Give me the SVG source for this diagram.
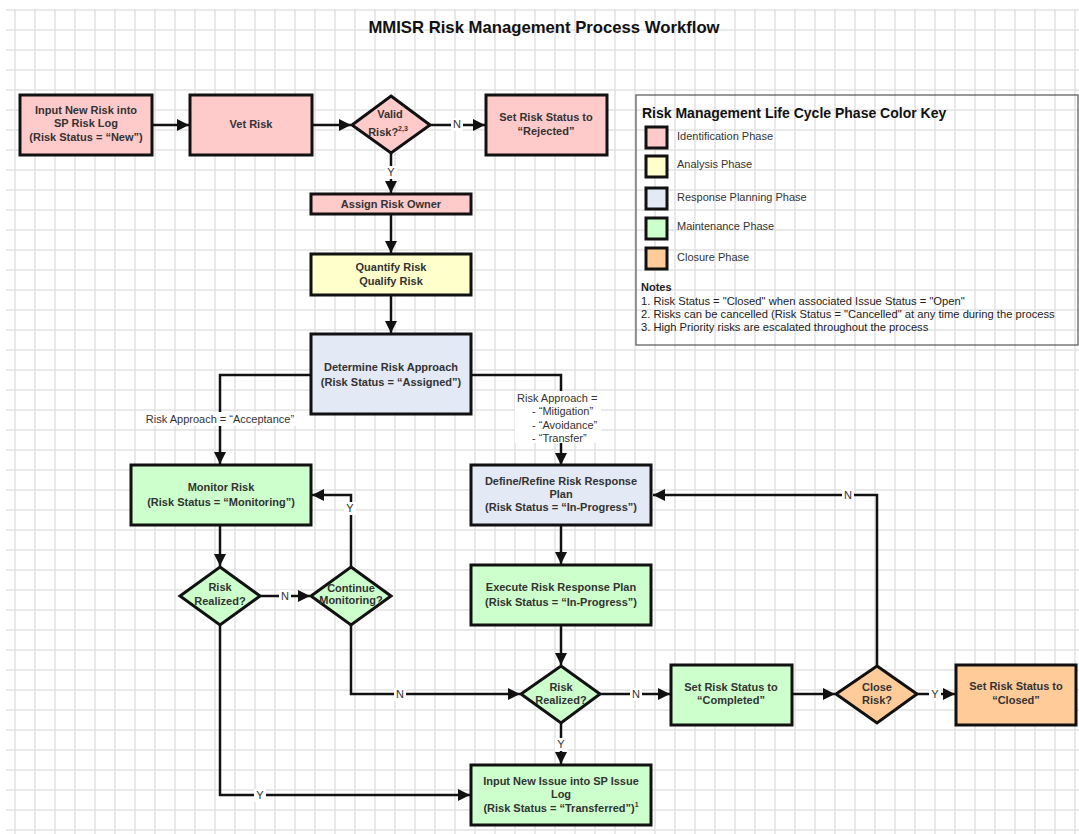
<svg xmlns="http://www.w3.org/2000/svg" width="1079" height="834" viewBox="0 0 1079 834">
<style>
.box{stroke:#111;stroke-width:3}
.pink{fill:#ffcaca}.yellow{fill:#ffffcc}.blue{fill:#e3e9f5}.green{fill:#ccffcc}.orange{fill:#ffcc99}
.t{font-family:"Liberation Sans",Arial,sans-serif;font-size:11px;font-weight:bold;fill:#333;text-anchor:middle}
.lbl{font-family:"Liberation Sans",Arial,sans-serif;font-size:11px;fill:#333}
.leg{font-family:"Liberation Sans",Arial,sans-serif;font-size:11px;fill:#333}
.note{font-family:"Liberation Sans",Arial,sans-serif;font-size:11.2px;fill:#222}
.edge{fill:none;stroke:#111;stroke-width:2.5}
.lb{fill:#fff}
</style>
<defs>
<pattern id="grid" patternUnits="userSpaceOnUse" x="5" y="0" width="20" height="20">
<path d="M10 0V20M0 10H20" stroke="#e2e2e2" stroke-width="1.5" fill="none"/>
</pattern>
<marker id="arr" markerUnits="userSpaceOnUse" markerWidth="13" markerHeight="13" refX="12" refY="6" orient="auto">
<path d="M0 0L12 6L0 12z" fill="#111"/>
</marker>
</defs>
<rect width="1079" height="834" fill="#fff"/>
<rect x="6" y="9" width="1073" height="825" fill="url(#grid)"/>
<text x="544" y="33" style="font-family:'Liberation Sans',Arial,sans-serif;font-size:16.7px;font-weight:bold;fill:#111" text-anchor="middle">MMISR Risk Management Process Workflow</text>

<g id="connectors">
<path class="edge" d="M152 125H189" marker-end="url(#arr)"/>
<path class="edge" d="M312 125H351" marker-end="url(#arr)"/>
<path class="edge" d="M430 125H485" marker-end="url(#arr)"/>
<rect class="lb" x="451" y="118" width="12" height="13"/><text class="lbl" x="457" y="128" text-anchor="middle">N</text>
<path class="edge" d="M391 153V193" marker-end="url(#arr)"/>
<rect class="lb" x="385" y="166" width="12" height="13"/><text class="lbl" x="391" y="176" text-anchor="middle">Y</text>
<path class="edge" d="M391 214V253" marker-end="url(#arr)"/>
<path class="edge" d="M391 295V333" marker-end="url(#arr)"/>
<path class="edge" d="M311 375H220V464" marker-end="url(#arr)"/>
<rect class="lb" x="142" y="412" width="156" height="14"/><text class="lbl" x="220" y="423" text-anchor="middle">Risk Approach = “Acceptance”</text>
<path class="edge" d="M471 375H561V465" marker-end="url(#arr)"/>
<rect class="lb" x="515" y="391" width="86" height="52"/>
<text class="lbl" x="517" y="402">Risk Approach =</text>
<text class="lbl" x="532" y="415">- “Mitigation”</text>
<text class="lbl" x="532" y="429">- “Avoidance”</text>
<text class="lbl" x="532" y="442">- “Transfer”</text>
<path class="edge" d="M220 525V566" marker-end="url(#arr)"/>
<path class="edge" d="M260 596H310" marker-end="url(#arr)"/>
<rect class="lb" x="279" y="590" width="12" height="13"/><text class="lbl" x="285" y="600" text-anchor="middle">N</text>
<path class="edge" d="M351 567V495H312" marker-end="url(#arr)"/>
<rect class="lb" x="344" y="502" width="12" height="13"/><text class="lbl" x="350" y="512" text-anchor="middle">Y</text>
<path class="edge" d="M351 625V694H520" marker-end="url(#arr)"/>
<rect class="lb" x="394" y="688" width="12" height="13"/><text class="lbl" x="400" y="698" text-anchor="middle">N</text>
<path class="edge" d="M220 625V795H470" marker-end="url(#arr)"/>
<rect class="lb" x="254" y="789" width="12" height="13"/><text class="lbl" x="260" y="799" text-anchor="middle">Y</text>
<path class="edge" d="M561 525V564" marker-end="url(#arr)"/>
<path class="edge" d="M561 626V665" marker-end="url(#arr)"/>
<path class="edge" d="M600 694H670" marker-end="url(#arr)"/>
<rect class="lb" x="630" y="688" width="12" height="13"/><text class="lbl" x="636" y="698" text-anchor="middle">N</text>
<path class="edge" d="M561 723V764" marker-end="url(#arr)"/>
<rect class="lb" x="555" y="738" width="12" height="13"/><text class="lbl" x="561" y="748" text-anchor="middle">Y</text>
<path class="edge" d="M792 694H835" marker-end="url(#arr)"/>
<path class="edge" d="M917 694H955" marker-end="url(#arr)"/>
<rect class="lb" x="929" y="688" width="12" height="13"/><text class="lbl" x="935" y="698" text-anchor="middle">Y</text>
<path class="edge" d="M877 666V495H653" marker-end="url(#arr)"/>
<rect class="lb" x="842" y="489" width="12" height="13"/><text class="lbl" x="848" y="499" text-anchor="middle">N</text>
</g>

<g id="n-input-risk"><rect class="box pink" x="20" y="95" width="132" height="60"/>
<text class="t" x="86" y="114">Input New Risk into</text><text class="t" x="86" y="127">SP Risk Log</text><text class="t" x="86" y="141">(Risk Status = “New”)</text></g>
<g id="n-vet"><rect class="box pink" x="190" y="95" width="122" height="60"/><text class="t" x="251" y="128">Vet Risk</text></g>
<g id="n-valid"><path class="box pink" d="M391 96L430 125L391 153L352 125Z"/>
<text class="t" x="390" y="118">Valid</text><text class="t" x="388" y="136">Risk?<tspan font-size="7" dy="-5">2,3</tspan></text></g>
<g id="n-rejected"><rect class="box pink" x="486" y="95" width="121" height="60"/>
<text class="t" x="546" y="121">Set Risk Status to</text><text class="t" x="546" y="135">“Rejected”</text></g>
<g id="n-assign"><rect class="box pink" x="311" y="194" width="160" height="20"/><text class="t" x="391" y="208">Assign Risk Owner</text></g>
<g id="n-quantify"><rect class="box yellow" x="311" y="254" width="160" height="41"/>
<text class="t" x="391" y="271">Quantify Risk</text><text class="t" x="391" y="285">Qualify Risk</text></g>
<g id="n-determine"><rect class="box blue" x="311" y="334" width="160" height="80"/>
<text class="t" x="391" y="371">Determine Risk Approach</text><text class="t" x="391" y="386">(Risk Status = “Assigned”)</text></g>
<g id="n-monitor"><rect class="box green" x="131" y="465" width="180" height="60"/>
<text class="t" x="221" y="491">Monitor Risk</text><text class="t" x="221" y="506">(Risk Status = “Monitoring”)</text></g>
<g id="n-realized-left"><path class="box green" d="M220 567L260 596L220 625L180 596Z"/>
<text class="t" x="220" y="591">Risk</text><text class="t" x="220" y="605">Realized?</text></g>
<g id="n-continue"><path class="box green" d="M351 567L391 596L351 625L311 596Z"/>
<text class="t" x="351" y="592" font-size="9">Continue</text><text class="t" x="351" y="604" font-size="9">Monitoring?</text></g>
<g id="n-define"><rect class="box blue" x="471" y="465" width="180" height="60"/>
<text class="t" x="561" y="485">Define/Refine Risk Response</text><text class="t" x="561" y="498">Plan</text><text class="t" x="561" y="511">(Risk Status = “In-Progress”)</text></g>
<g id="n-execute"><rect class="box green" x="471" y="565" width="180" height="60"/>
<text class="t" x="561" y="591">Execute Risk Response Plan</text><text class="t" x="561" y="606">(Risk Status = “In-Progress”)</text></g>
<g id="n-realized-right"><path class="box green" d="M561 666L600 694L561 723L521 694Z"/>
<text class="t" x="561" y="691">Risk</text><text class="t" x="561" y="704">Realized?</text></g>
<g id="n-completed"><rect class="box green" x="671" y="665" width="121" height="60"/>
<text class="t" x="731" y="691">Set Risk Status to</text><text class="t" x="731" y="704">“Completed”</text></g>
<g id="n-close"><path class="box orange" d="M877 666L917 694L877 723L836 694Z"/>
<text class="t" x="877" y="691">Close</text><text class="t" x="877" y="704">Risk?</text></g>
<g id="n-closed"><rect class="box orange" x="956" y="665" width="120" height="60"/>
<text class="t" x="1016" y="690">Set Risk Status to</text><text class="t" x="1016" y="704">“Closed”</text></g>
<g id="n-issue"><rect class="box green" x="471" y="765" width="180" height="60"/>
<text class="t" x="561" y="785">Input New Issue into SP Issue</text><text class="t" x="561" y="798">Log</text><text class="t" x="561" y="812">(Risk Status = “Transferred”)<tspan font-size="7" dy="-5">1</tspan></text></g>

<g id="legend">
<rect x="636" y="95" width="442" height="250" fill="none" stroke="#555" stroke-width="1.2"/>
<text x="642" y="118" style="font-family:'Liberation Sans',Arial,sans-serif;font-size:14px;font-weight:bold;fill:#111">Risk Management Life Cycle Phase Color Key</text>
<rect class="box pink" x="646" y="127" width="21" height="21"/><text class="leg" x="677" y="140">Identification Phase</text>
<rect class="box yellow" x="646" y="156" width="21" height="21"/><text class="leg" x="677" y="168">Analysis Phase</text>
<rect class="box blue" x="646" y="188" width="21" height="21"/><text class="leg" x="677" y="201">Response Planning Phase</text>
<rect class="box green" x="646" y="218" width="21" height="21"/><text class="leg" x="677" y="230">Maintenance Phase</text>
<rect class="box orange" x="646" y="248" width="21" height="21"/><text class="leg" x="677" y="261">Closure Phase</text>
<text x="641" y="291" style="font-family:'Liberation Sans',Arial,sans-serif;font-size:11px;font-weight:bold;fill:#222">Notes</text>
<text class="note" x="641" y="305">1. Risk Status = "Closed" when associated Issue Status = "Open"</text>
<text class="note" x="641" y="318">2. Risks can be cancelled (Risk Status = "Cancelled" at any time during the process</text>
<text class="note" x="641" y="331">3. High Priority risks are escalated throughout the process</text>
</g>
</svg>
